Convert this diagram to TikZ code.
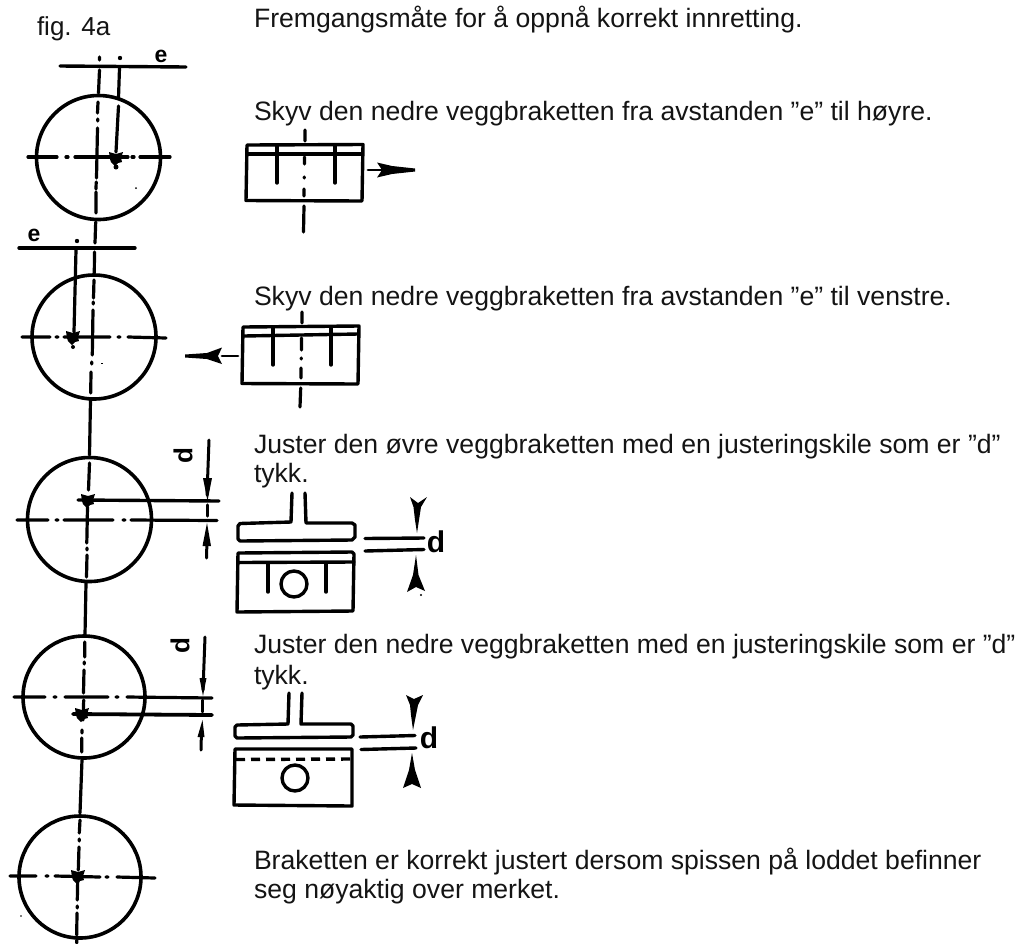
\documentclass[tikz,border=0pt]{standalone}
\usepackage{fontspec}
\setmainfont{Liberation Sans}
\newcommand{\markblob}[2]{\fill[black] (#1-7,#2-6) -- (#1,#2-4) -- (#1+7,#2-6) -- (#1+5,#2) -- (#1+6,#2+4) -- (#1+2,#2+5) -- (#1-1,#2+8) -- (#1-5,#2+4) -- (#1-6,#2+1) -- cycle;}
\tikzset{
  x=1pt,y=-1pt,
  txt/.style={anchor=base west,inner sep=0pt,outer sep=0pt,font=\fontsize{26.6}{30}\selectfont,text=black!92},
  ring/.style={draw=black,line width=3.6pt},
  axisline/.style={draw=black,line width=3.2pt,line cap=round},
  heavy/.style={draw=black,line width=3.4pt,line cap=round,line join=round},
  thinner/.style={draw=black,line width=2.8pt,line cap=round,line join=round},
  boldletter/.style={inner sep=0pt,outer sep=0pt,font=\fontsize{30}{30}\selectfont\bfseries},
  eletter/.style={inner sep=0pt,outer sep=0pt,font=\fontsize{23}{23}\selectfont\bfseries},
  smallletter/.style={inner sep=0pt,outer sep=0pt,font=\fontsize{26}{26}\selectfont\bfseries}
}
\begin{document}
\begin{tikzpicture}
\useasboundingbox (0,0) rectangle (1019,943);
% texts
\node[txt,font=\fontsize{26}{30}\selectfont] (fig) at (37,35) {fig. 4a};
\node[txt] (t0) at (254,27) {Fremgangsmåte for å oppnå korrekt innretting.};
\node[txt] (t1) at (254,120) {Skyv den nedre veggbraketten fra avstanden ”e” til høyre.};
\node[txt] (t2) at (254,305) {Skyv den nedre veggbraketten fra avstanden ”e” til venstre.};
\node[txt] (t3) at (254,453) {Juster den øvre veggbraketten med en justeringskile som er ”d”};
\node[txt] (t3b) at (254,482) {tykk.};
\node[txt] (t4) at (254,653) {Juster den nedre veggbraketten med en justeringskile som er ”d”};
\node[txt] (t4b) at (254,684) {tykk.};
\node[txt] (t5) at (254,869) {Braketten er korrekt justert dersom spissen på loddet befinner};
\node[txt] (t5b) at (254,898) {seg nøyaktig over merket.};
% circles
\draw[ring] (98.5,157.5) circle (62);
\draw[ring] (94,337) circle (62);
\draw[ring] (89.5,519.5) circle (62);
\draw[ring] (84,697) circle (61);
\draw[ring] (80,877) circle (61);
% main plumb line
\draw[axisline] (99.5,57)--(99.5,60) (99.5,70)--(98.5,93) (98,102)--(97.5,113) (97.7,119)--(97.7,121)
 (97.5,128)--(96.5,178) (96.2,182)--(96,189) (96,192)--(96,213) (95.7,222)--(95,243) (94.5,252)--(94.3,273)
 (94,280)--(93.5,298) (93.3,302)--(93.3,304) (93,310)--(92.3,355) (91.7,362)--(91.7,364) (91,372)--(90.7,393)
 (90.5,400)--(89.5,455) (89.5,463)--(88.5,490) (87.5,507)--(86.8,543) (87,548)--(87,550) (87,555)--(86.5,577)
 (86,583)--(85,635) (84.7,642)--(84.7,657) (84.3,662)--(84.3,664) (84,670)--(83.5,693) (83.7,700)--(83,720)
 (82,730)--(82,733) (81.8,738)--(81.8,752) (82,760)--(80,813) (80,820)--(79.3,833) (79.3,839)--(79.3,841)
 (79,847)--(78.3,870) (77.7,880)--(77.3,900) (77.3,906)--(77.3,908) (77,913)--(76.7,935) (76.7,940)--(76.7,943);
% horizontal axes
\draw[axisline] (28,157)--(57,157) (66,157)--(68,157) (75,157)--(128,157) (132,157)--(134,157) (140,157)--(170,157);
\draw[axisline] (22,337)--(50,337) (56,337)--(58,337) (64,337)--(110,337) (118,337)--(120,337) (128,337)--(166,338);
\draw[axisline] (17,520)--(48,520) (56,520)--(58,520) (64,520)--(113,520) (123,520)--(125,520) (131,520)--(217,520.5);
\draw[axisline] (14,697)--(45,697) (54,697)--(56,697) (65,697)--(108,697) (116,697)--(118,697) (127,697)--(212,698);
\draw[axisline] (10,876)--(36,876) (46,876)--(48,876) (55,876)--(100,877) (106,877)--(108,877) (117,877)--(155,878);
% marks
\markblob{116}{158}
\fill (116,167) circle (2.5);
\markblob{73}{337}
\fill (73,347) circle (2);
\markblob{88}{500}
\draw[heavy] (78,500)--(219,501);
\markblob{82}{714}
\draw[heavy,line width=3.8pt] (73,714)--(212,715);
\markblob{78}{876}
% e dimension top
\draw[heavy] (60,66)--(186,67);
\fill (120,58) circle (2.2);
\draw[axisline] (119.5,68)--(118.5,98) (118.5,106)--(116,152);
\node[eletter] (e1) at (161,56) {e};
% e dimension second
\draw[heavy] (19,248)--(135,248);
\fill (77,241) circle (2.2);
\draw[axisline] (76,250)--(74,332);
\node[eletter] (e2) at (34,235) {e};
% d dimension third
\draw[thinner,line width=3pt] (209,440)--(207,495);
\fill (203,478)--(212,478)--(207.5,501)--cycle;
\draw[axisline] (207.5,505)--(207.5,516);
\fill (202.5,546)--(211,546)--(207,523)--cycle;
\draw[thinner,line width=3pt] (207,540)--(206.5,558);
\node[smallletter,rotate=90] (d3) at (183,456) {d};
% d dimension fourth
\draw[thinner,line width=3pt] (205,637)--(203,690);
\fill (199.5,678)--(206.5,678)--(203,696)--cycle;
\draw[thinner] (202.5,700)--(202.5,712);
\fill (197.5,737)--(204.5,737)--(202.5,720)--cycle;
\draw[thinner,line width=3pt] (201.5,730)--(201,750);
\node[smallletter,rotate=90] (d4) at (180,646) {d};
% bracket A
\draw[heavy] (247,145)--(363,144.5)--(362,201)--(246,200.5)--cycle;
\draw[heavy] (248,154)--(362,154);
\draw[heavy] (277,146)--(277,183) (335,146)--(335,183);
\draw[axisline] (305,130)--(305,141) (304.5,157)--(304.5,164) (304.3,177)--(304.3,178) (304,189)--(304,196) (304,206)--(303.5,232);
\draw[thinner] (368,170)--(382,170);
\fill (377,162.5)--(392,166)--(415,168.5)--(415,171.5)--(392,174)--(377,177.5)--(382,170)--cycle;
% bracket B
\draw[heavy] (243,327)--(359,326)--(358,384)--(242,383.5)--cycle;
\draw[heavy] (244,336)--(358,334);
\draw[heavy] (273,328)--(273,365) (331,328)--(331,365);
\draw[axisline] (302,312)--(302,323) (301.5,338)--(301.5,350) (301.3,358)--(301.3,359) (301,368)--(301,378) (300.7,388)--(300,407);
\draw[thinner] (238,356)--(222,356);
\fill (222,347.5)--(207,353)--(185,354.5)--(185,357.5)--(207,359)--(222,364)--(218,356)--cycle;
% bracket C
\draw[heavy] (292,493)--(291,522)--(240,523.5)--(238,526)--(238,539)--(240,541)--(352,540)--(355,537)--(355,525)--(352,523)--(306,523)--(305,493);
\draw[heavy] (238,553)--(352,552)--(354,554)--(353,611)--(237,612)--(238,553);
\draw[heavy] (238,562.5)--(354,562);
\draw[heavy] (268,563)--(268,592) (326,563)--(326,592);
\draw[heavy] (294,584) circle (13);
\draw[heavy] (365,538.5)--(424,538);
\draw[heavy] (365,551)--(424,549.5);
\fill (417,533)--(415,520)--(413.5,507)--(410,497)--(418,503)--(427,497)--(421,507)--(419,520)--cycle;
\fill (416,555)--(418.5,575)--(425,591)--(416,587)--(407,592)--(413,575)--cycle;
\node[boldletter] (dc) at (436,542) {d};
% bracket D
\draw[heavy] (289,693)--(288,724)--(237,725)--(235,727)--(235,736)--(237,738)--(351,737)--(353,735)--(353,726)--(351,724)--(301,724)--(302,693);
\draw[heavy] (235,749)--(352,749)--(352,806)--(234,805)--cycle;
\draw[heavy,dash pattern=on 9pt off 6pt,line cap=butt] (236,759.5)--(351,759);
\draw[heavy] (295,778) circle (13);
\draw[heavy] (360,737)--(415,735.5);
\draw[heavy] (361,749.5)--(416,748);
\fill (413,730)--(411,715)--(410,705)--(406,695)--(414,699)--(423,695)--(418,705)--(416,715)--cycle;
\fill (412,753)--(415,770)--(421,788)--(412,784)--(403,788)--(409,770)--cycle;
\node[boldletter] (dd) at (429,738) {d};
% specks
\fill (136,188) circle (1);
\fill (21,916) circle (0.8);
\fill (101,363) rectangle (103,364);
\fill (421,595) circle (1.2);
\end{tikzpicture}
\end{document}
